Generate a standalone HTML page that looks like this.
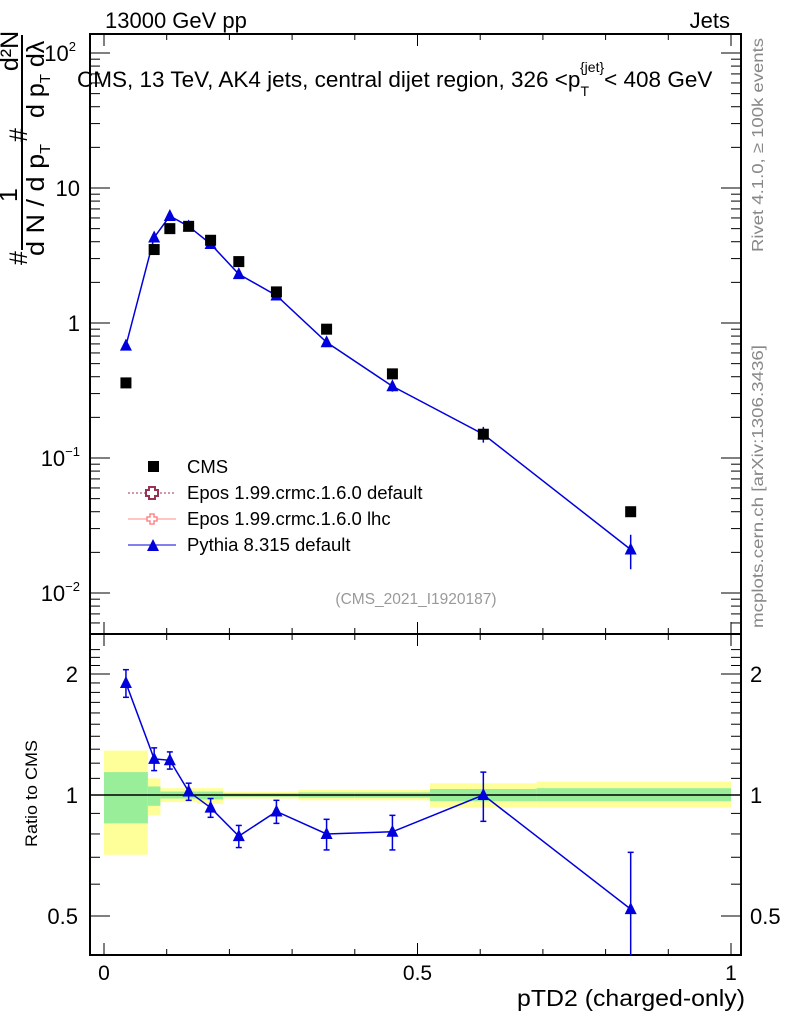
<!DOCTYPE html>
<html><head><meta charset="utf-8"><style>
body{margin:0;background:#fff;width:786px;height:1024px;overflow:hidden;font-family:"Liberation Sans",sans-serif}
svg text{font-family:"Liberation Sans",sans-serif}
</style></head><body>
<svg id="c" width="786" height="1024" xmlns="http://www.w3.org/2000/svg">
<text x="105" y="28" font-size="22">13000 GeV pp</text>
<text x="730" y="28" font-size="22" text-anchor="end">Jets</text>
<text x="77" y="87" font-size="22.5">CMS, 13 TeV, AK4 jets, central dijet region, 326 &lt;p<tspan font-size="14" dy="9">T</tspan><tspan font-size="14" dy="-24" dx="-9">{jet}</tspan><tspan dy="15">&lt; 408 GeV</tspan></text>
<text x="416" y="604" font-size="15.5" fill="#999" text-anchor="middle">(CMS_2021_I1920187)</text>
<text transform="translate(763,628) rotate(-90)" font-size="16" fill="#888" textLength="283" lengthAdjust="spacingAndGlyphs">mcplots.cern.ch [arXiv:1306.3436]</text>
<text transform="translate(763,252) rotate(-90)" font-size="16" fill="#888" textLength="214" lengthAdjust="spacingAndGlyphs">Rivet 4.1.0, ≥ 100k events</text>
<g font-size="25">
<text transform="translate(27,265) rotate(-90)">#</text>
<line x1="22" y1="35" x2="22" y2="250" stroke="#000" stroke-width="2"/>
<text transform="translate(17,195) rotate(-90)" text-anchor="middle">1</text>
<text transform="translate(44,256) rotate(-90)" textLength="112" lengthAdjust="spacingAndGlyphs">d N / d p<tspan font-size="15" dy="6">T</tspan></text>
<text transform="translate(27,142) rotate(-90)">#</text>
<text transform="translate(18,51) rotate(-90)" text-anchor="middle">d²N</text>
<text transform="translate(44,118) rotate(-90)">d p<tspan font-size="15" dy="6">T</tspan><tspan dy="-6"> dλ</tspan></text>
</g>
<text transform="translate(37,847) rotate(-90)" font-size="17" textLength="107" lengthAdjust="spacingAndGlyphs">Ratio to CMS</text>
<text x="745" y="1006" font-size="23" text-anchor="end" textLength="228" lengthAdjust="spacingAndGlyphs">pTD2 (charged-only)</text>
<g id="g"></g>
</svg>
<script>
const xCenters=[0.035,0.08,0.105,0.135,0.17,0.215,0.275,0.355,0.46,0.605,0.84];
const cmsValues=[0.36,3.5,5.0,5.2,4.1,2.85,1.7,0.9,0.42,0.15,0.04];
const pythiaValues=[0.68,4.3,6.2,5.2,3.85,2.3,1.6,0.72,0.34,0.15,0.021];
const pythiaErr=[0.05,0.3,0.3,0.25,0.2,0.12,0.1,0.05,0.03,0.02,0.006];
const ratioValues=[1.9,1.23,1.22,1.02,0.93,0.79,0.91,0.80,0.81,1.0,0.52];
const ratioErr=[0.15,0.08,0.06,0.05,0.05,0.05,0.06,0.07,0.08,0.14,0.2];
const binEdges=[0,0.07,0.09,0.118,0.148,0.19,0.24,0.31,0.40,0.52,0.69,1.0];
const yellowHi=[1.29,1.10,1.04,1.04,1.04,1.02,1.02,1.03,1.03,1.07,1.08];
const yellowLo=[0.71,0.89,0.96,0.96,0.95,0.98,0.98,0.97,0.97,0.93,0.93];
const greenHi=[1.14,1.05,1.02,1.02,1.02,1.01,1.01,1.015,1.015,1.035,1.04];
const greenLo=[0.85,0.94,0.98,0.98,0.975,0.99,0.99,0.985,0.985,0.965,0.965];
const xTicks=[0,0.5,1];
const xTickLabels=["0","0.5","1"];
const yTicks=[0.01,0.1,1,10,100];
const ratioTicks=[0.5,1,2];

const NS="http://www.w3.org/2000/svg";
const L=90,R=741,T=34,MB=634,RB=955;
const X=v=>104+627*v;
const Y=v=>323-135*Math.log10(v);
const RY=r=>795-121*Math.log2(r);
const g=document.getElementById('g');
function mk(t,a,p){const e=document.createElementNS(NS,t);for(const k in a)e.setAttribute(k,a[k]);(p||g).appendChild(e);return e;}
for(let i=0;i<binEdges.length-1;i++){
 const x1=X(binEdges[i]),x2=X(binEdges[i+1]);
 let e=mk('rect',{x:x1,y:RY(yellowHi[i]),width:x2-x1,height:RY(yellowLo[i])-RY(yellowHi[i]),fill:'#ffff99'});
 
 
 e=mk('rect',{x:x1,y:RY(greenHi[i]),width:x2-x1,height:RY(greenLo[i])-RY(greenHi[i]),fill:'#99ee99'});
 
 
}
mk('line',{x1:L,x2:R,y1:RY(1),y2:RY(1),stroke:'#000','stroke-width':1.5});
let f=mk('rect',{x:L,y:T,width:R-L,height:MB-T,fill:'none',stroke:'#000','stroke-width':2});


f=mk('rect',{x:L,y:MB,width:R-L,height:RB-MB,fill:'none',stroke:'#000','stroke-width':2});


for(let v=0;v<=1.0001;v+=0.1){const big=Math.abs(v*2-Math.round(v*2))<1e-6;const l=big?12:6;const x=X(v);
 mk('line',{x1:x,x2:x,y1:T,y2:T+l,stroke:'#000'});mk('line',{x1:x,x2:x,y1:MB,y2:MB-l,stroke:'#000'});
 mk('line',{x1:x,x2:x,y1:MB,y2:MB+l,stroke:'#000'});mk('line',{x1:x,x2:x,y1:RB,y2:RB-l,stroke:'#000'});}
xTicks.forEach((v,i)=>{const t=mk('text',{x:X(v),y:980,'font-size':21,'text-anchor':'middle'});t.textContent=xTickLabels[i];
 
 });
for(let d=-3;d<=2;d++)for(let m=1;m<10;m++){const v=m*Math.pow(10,d);const y=Y(v);if(y<T||y>MB)continue;const l=m==1?20:10;
 mk('line',{x1:L,x2:L+l,y1:y,y2:y,stroke:'#000'});mk('line',{x1:R,x2:R-l,y1:y,y2:y,stroke:'#000'});}
const yl=["10<tspan font-size='13' dy='-10'>−2</tspan>","10<tspan font-size='13' dy='-10'>−1</tspan>","1","10","10<tspan font-size='13' dy='-10'>2</tspan>"];
yTicks.forEach((v,i)=>{const t=mk('text',{x:80,y:Y(v)+8,'font-size':22,'text-anchor':'end'});t.innerHTML=yl[i];
 if(i==0||i==1||i==4){t.setAttribute('x',i==4?76:80);}
 
 });
[0.5,0.6,0.7,0.8,0.9,1,1.1,1.2,1.3,1.4,1.5,1.6,1.7,1.8,1.9,2,2.1,2.2,2.3].forEach(v=>{const y=RY(v);if(y<MB)return;const l=ratioTicks.includes(v)?20:10;
 mk('line',{x1:L,x2:L+l,y1:y,y2:y,stroke:'#000'});mk('line',{x1:R,x2:R-l,y1:y,y2:y,stroke:'#000'});});
ratioTicks.forEach(v=>{const lab=String(v);
 let t=mk('text',{x:78,y:RY(v)+8,'font-size':22,'text-anchor':'end'});t.textContent=lab;
 
 
 t=mk('text',{x:750,y:RY(v)+8,'font-size':22});t.textContent=lab;
 
 });
function tri(x,y,p){const e=mk('polygon',{points:`${x},${y-7} ${x-6},${y+5} ${x+6},${y+5}`,fill:'#0000dd'},p);return e;}
let pl=mk('polyline',{points:xCenters.map((v,i)=>X(v)+','+Y(pythiaValues[i])).join(' '),fill:'none',stroke:'#0000dd','stroke-width':1.5});


xCenters.forEach((v,i)=>{const x=X(v),y1=Y(pythiaValues[i]+pythiaErr[i]),y2=Y(pythiaValues[i]-pythiaErr[i]);
 mk('line',{x1:x,x2:x,y1:y1,y2:y2,stroke:'#0000dd','stroke-width':1.5});
 const t=tri(x,Y(pythiaValues[i]));
 
 });
xCenters.forEach((v,i)=>{const r=mk('rect',{x:X(v)-5.5,y:Y(cmsValues[i])-5.5,width:11,height:11,fill:'#000'});
 
 });
pl=mk('polyline',{points:xCenters.map((v,i)=>X(v)+','+RY(ratioValues[i])).join(' '),fill:'none',stroke:'#0000dd','stroke-width':1.5});


xCenters.forEach((v,i)=>{const x=X(v),y1=RY(ratioValues[i]+ratioErr[i]),y2=Math.min(RB,RY(ratioValues[i]-ratioErr[i]));
 mk('line',{x1:x,x2:x,y1:y1,y2:y2,stroke:'#0000dd','stroke-width':1.5});
 mk('line',{x1:x-3,x2:x+3,y1:y1,y2:y1,stroke:'#0000dd','stroke-width':1.5});
 if(y2<RB)mk('line',{x1:x-3,x2:x+3,y1:y2,y2:y2,stroke:'#0000dd','stroke-width':1.5});
 const t=tri(x,RY(ratioValues[i]));
 
 });
const lg=mk('g',{});


mk('rect',{x:148,y:461,width:11,height:11,fill:'#000'},lg);
mk('line',{x1:128,x2:176,y1:493,y2:493,stroke:'#993355','stroke-dasharray':'2,2'},lg);
mk('path',{d:'M149,487h6v3h3v6h-3v3h-6v-3h-3v-6h3z',fill:'#fff',stroke:'#993355','stroke-width':2},lg);
mk('line',{x1:128,x2:176,y1:519,y2:519,stroke:'#ff8888'},lg);
mk('path',{d:'M150,514h4v3h3v4h-3v3h-4v-3h-3v-4h3z',fill:'#fff',stroke:'#ff8888','stroke-width':1.5},lg);
mk('line',{x1:128,x2:176,y1:545,y2:545,stroke:'#0000dd'},lg);
tri(153,546,lg);
["CMS","Epos 1.99.crmc.1.6.0 default","Epos 1.99.crmc.1.6.0 lhc","Pythia 8.315 default"].forEach((s,i)=>{const t=mk('text',{x:187,y:473+i*26,'font-size':18.5},lg);t.textContent=s;
 
 });
</script>
</body></html>
